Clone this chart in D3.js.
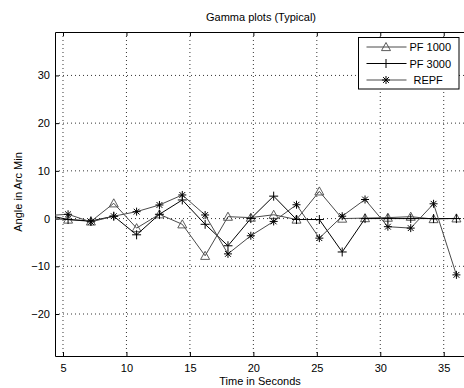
<!DOCTYPE html>
<html>
<head>
<meta charset="utf-8">
<script src="https://cdn.jsdelivr.net/npm/d3@7"></script>
<style>
  body { margin: 0; background: #fff; }
  svg { display: block; font-family: "Liberation Sans", Arial, Helvetica, sans-serif; }
</style>
</head>
<body>
<svg id="chart" width="464" height="388"></svg>
<script>
// sample times (s), first one sits left of the visible axis and gets clipped
const times = [3.6, 5.4, 7.2, 9.0, 10.8, 12.6, 14.4, 16.2, 18.0, 19.8, 21.6, 23.4, 25.2, 27.0, 28.8, 30.6, 32.4, 34.2, 36.0]

const pf1000 = [0, -0.2, -0.6, 3.2, -2.0, 0.9, -1.2, -7.8, 0.4, 0.2, 0.8, -0.2, 5.7, 0, 0.1, 0.2, 0.4, -0.1, 0.05]
const pf3000 = [0.8, -0.2, -0.5, 0.5, -3.4, 0.9, 3.9, -1.2, -5.7, 0, 4.7, -0.2, -0.2, -7.0, 0, 0, 0, 0, 0]
const repf = [0.6, 0.9, -0.7, 0.5, 1.45, 2.85, 4.95, 0.75, -7.4, -3.6, -0.6, 2.9, -4.1, 0.5, 4.0, -1.7, -2.0, 3.1, -11.8]

const xTicks = [5, 10, 15, 20, 25, 30, 35]
const yTicks = [-20, -10, 0, 10, 20, 30]

const series = [
  {name: 'PF 1000', values: pf1000, marker: 'triangle', color: '#4a4a4a'},
  {name: 'PF 3000', values: pf3000, marker: 'plus', color: '#000'},
  {name: 'REPF', values: repf, marker: 'star', color: '#4a4a4a'}
]

const svg = d3.select('#chart')
const margin = {top: 32, right: -6, bottom: 32, left: 55}
const width = 464, height = 388

const x = d3.scaleLinear()
  .domain([4.37, 37.07])
  .range([margin.left, width - margin.right])
const y = d3.scaleLinear()
  .domain([-28.8, 39.1])
  .range([height - margin.bottom, margin.top])

const plotW = x.range()[1] - x.range()[0]
const plotH = y.range()[0] - y.range()[1]

svg.append('defs').append('clipPath').attr('id', 'clip')
  .append('rect')
  .attr('x', margin.left).attr('y', margin.top)
  .attr('width', plotW).attr('height', plotH)

// grid
const grid = svg.append('g').attr('stroke', '#000').attr('stroke-width', 0.8).attr('stroke-dasharray', '1,3')
grid.selectAll('.gx').data(xTicks).join('line')
  .attr('x1', d => x(d)).attr('x2', d => x(d))
  .attr('y1', y.range()[1]).attr('y2', y.range()[0])
grid.selectAll('.gy').data(yTicks).join('line')
  .attr('y1', d => y(d)).attr('y2', d => y(d))
  .attr('x1', x.range()[0]).attr('x2', x.range()[1])

// axes, ticks pointing inward like matlab
const tickLen = 4
const xAxis = d3.axisBottom(x).tickValues(xTicks).tickSizeInner(-tickLen).tickSizeOuter(0).tickPadding(8)
const yAxis = d3.axisLeft(y).tickValues(yTicks).tickSizeInner(-tickLen).tickSizeOuter(0).tickPadding(5)
  .tickFormat(d => d < 0 ? '\u2212' + Math.abs(d) : d)

const gx = svg.append('g').attr('transform', `translate(0,${y.range()[0]})`).call(xAxis)
const gy = svg.append('g').attr('transform', `translate(${x.range()[0]},0)`).call(yAxis)
svg.append('g').attr('transform', `translate(0,${y.range()[1]})`)
  .call(d3.axisTop(x).tickValues(xTicks).tickSizeInner(-tickLen).tickSizeOuter(0).tickFormat(''))
svg.append('g').attr('transform', `translate(${x.range()[1]},0)`)
  .call(d3.axisRight(y).tickValues(yTicks).tickSizeInner(-tickLen).tickSizeOuter(0).tickFormat(''))

svg.selectAll('.domain').attr('stroke', '#000')
svg.selectAll('.tick line').attr('stroke', '#000')
svg.selectAll('.tick text').attr('font-size', 11).attr('fill', '#000')
  .attr('font-family', '"Liberation Sans", Arial, sans-serif')

// markers
function drawMarker(g, kind, cx, cy, color) {
  if (kind === 'triangle') {
    const r = 4.5
    g.append('path')
      .attr('d', `M${cx},${cy - r}L${cx + r},${cy + r * 0.8}L${cx - r},${cy + r * 0.8}Z`)
      .attr('fill', 'none').attr('stroke', color).attr('stroke-width', 0.9)
  } else if (kind === 'plus') {
    const r = 4.5
    g.append('path')
      .attr('d', `M${cx - r},${cy}H${cx + r}M${cx},${cy - r}V${cy + r}`)
      .attr('stroke', color).attr('stroke-width', 1)
  } else {
    const r = 4, q = 2.9
    g.append('path')
      .attr('d', `M${cx - r},${cy}H${cx + r}M${cx},${cy - r}V${cy + r}` +
        `M${cx - q},${cy - q}L${cx + q},${cy + q}M${cx - q},${cy + q}L${cx + q},${cy - q}`)
      .attr('stroke', '#000').attr('stroke-width', 1)
  }
}

const plot = svg.append('g').attr('clip-path', 'url(#clip)')
const line = d3.line().x(d => x(d[0])).y(d => y(d[1]))

series.forEach(s => {
  const pts = times.map((t, i) => [t, s.values[i]])
  plot.append('path')
    .datum(pts)
    .attr('fill', 'none')
    .attr('stroke', s.color)
    .attr('stroke-width', 1)
    .attr('d', line)
  const mg = plot.append('g')
  pts.forEach(p => drawMarker(mg, s.marker, x(p[0]), y(p[1]), s.color))
})

// legend
const legend = svg.append('g').attr('transform', 'translate(358.5,37.5)')
legend.append('rect').attr('width', 100.5).attr('height', 51.5)
  .attr('fill', '#fff').attr('stroke', '#000').attr('stroke-width', 1)
series.forEach((s, i) => {
  const ly = 9.5 + i * 16.5
  legend.append('line').attr('x1', 8).attr('x2', 48).attr('y1', ly).attr('y2', ly)
    .attr('stroke', s.color).attr('stroke-width', 1)
  drawMarker(legend, s.marker, 27.5, ly, s.color)
  legend.append('text').attr('x', i === 2 ? 55 : 51).attr('y', ly + 4)
    .attr('font-size', 11).text(s.name)
})

// labels
svg.append('text').attr('x', 261).attr('y', 21).attr('text-anchor', 'middle')
  .attr('font-size', 11).text('Gamma plots (Typical)')
svg.append('text').attr('x', 260).attr('y', 385).attr('text-anchor', 'middle')
  .attr('font-size', 11).text('Time in Seconds')
svg.append('text').attr('transform', 'translate(22,192) rotate(-90)').attr('text-anchor', 'middle')
  .attr('font-size', 11).text('Angle in Arc Min')
</script>
</body>
</html>
